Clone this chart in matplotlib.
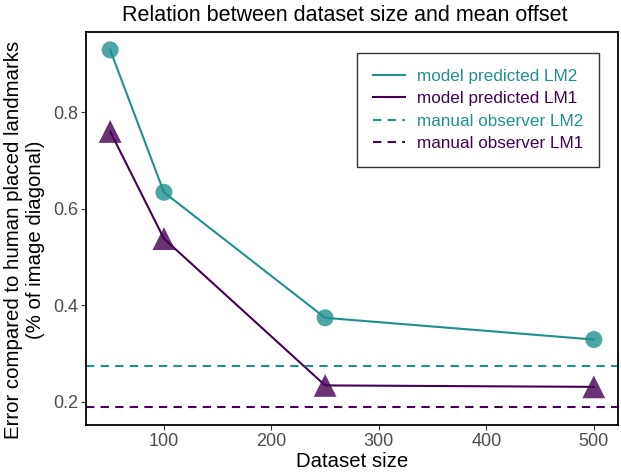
import numpy as np
import matplotlib.pyplot as plt

plt.rcParams['font.family'] = ['Liberation Sans', 'DejaVu Sans']

# data
dataset_size = [50, 100, 250, 500]
lm2_pred = [0.929, 0.634, 0.374, 0.329]
lm1_pred = [0.760, 0.538, 0.234, 0.231]
lm2_manual = 0.274
lm1_manual = 0.189

teal = '#21908C'
purple = '#440154'

fig = plt.figure(figsize=(6.21, 4.72), dpi=100)
ax = fig.add_axes([86 / 621, 47 / 472, 532 / 621, 393 / 472])

l2, = ax.plot(dataset_size, lm2_pred, color=teal, lw=1.5, label='model predicted LM2')
ax.scatter(dataset_size, lm2_pred, s=150, color=teal, alpha=0.8, edgecolors='none', zorder=3)
l1, = ax.plot(dataset_size, lm1_pred, color=purple, lw=1.5, label='model predicted LM1')
ax.scatter(dataset_size, lm1_pred, s=270, marker='^', color=purple, alpha=0.8, edgecolors='none', zorder=3)
d2 = ax.axhline(lm2_manual, color=teal, lw=1.5, ls=(0, (4, 3)), label='manual observer LM2')
d1 = ax.axhline(lm1_manual, color=purple, lw=1.5, ls=(0, (4, 3)), label='manual observer LM1')

ax.set_xlim(27.5, 522.5)
ax.set_ylim(0.152, 0.966)
ax.set_xticks([100, 200, 300, 400, 500])
ax.set_yticks([0.2, 0.4, 0.6, 0.8])
ax.tick_params(color='#333333', labelcolor='#4d4d4d', labelsize=13, length=3.5, width=0.8, pad=2)
for s in ax.spines.values():
    s.set_linewidth(1.3)

ax.set_xlabel('Dataset size', fontsize=14.7, labelpad=2)
ax.set_ylabel('Error compared to human placed landmarks\n(% of image diagonal)', fontsize=14.7)
ax.yaxis.set_label_coords(-0.078, 0.47)
ax.set_title('Relation between dataset size and mean offset', fontsize=15.5, pad=8, x=0.487)

leg = ax.legend(handles=[l2, l1, d2, d1], loc='upper right', bbox_to_anchor=(513 / 532, 372 / 393),
                fontsize=12.3, frameon=True, fancybox=False, edgecolor='black',
                handlelength=1.85, handletextpad=0.7, borderpad=0.95, labelspacing=0.42,
                borderaxespad=0)
leg.get_frame().set_linewidth(1.0)
for txt, c in zip(leg.get_texts(), [teal, purple, teal, purple]):
    txt.set_color(c)

fig.savefig('out.png', dpi=100)
